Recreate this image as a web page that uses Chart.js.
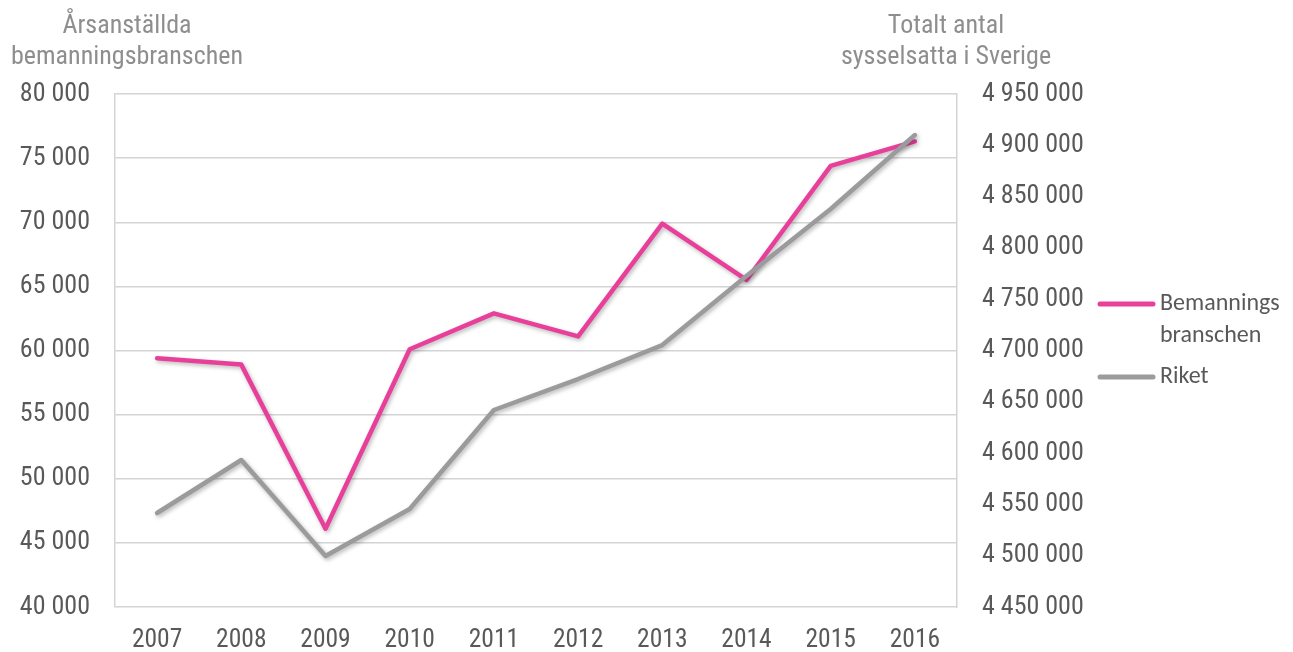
<!DOCTYPE html>
<html>
<head>
<meta charset="utf-8">
<script src="https://cdn.jsdelivr.net/npm/chart.js@4/dist/chart.umd.min.js"></script>
<style>
  html, body { margin: 0; padding: 0; background: #fff; overflow: hidden; }
  canvas { display: block; }
</style>
</head>
<body>
<canvas id="lineChart" width="1293" height="652"></canvas>
<script>
const years = ['2007', '2008', '2009', '2010', '2011', '2012', '2013', '2014', '2015', '2016'];
const bemanning = [59400, 58900, 46100, 60100, 62900, 61100, 69900, 65500, 74400, 76300];
const riket = [4541600, 4593300, 4499700, 4545500, 4642000, 4672200, 4705300, 4772600, 4837900, 4910000];
const leftTitle = ['Årsanställda', 'bemanningsbranschen'];
const rightTitle = ['Totalt antal', 'sysselsatta i Sverige'];
const legendItems = [
    { lines: ['Bemannings', 'branschen'], color: '#E8409A' },
    { lines: ['Riket'], color: '#9B9B9D' }
];

const tickFont = "'Roboto Condensed', 'Liberation Sans Narrow', 'DejaVu Sans Condensed', sans-serif";
const legendFont = "Carlito, Calibri, Lato, sans-serif";

function spaced(v) {
    return v.toString().replace(/\B(?=(\d{3})+(?!\d))/g, ' ');
}

// shadow under lines, like the office chart
const shadowPlugin = {
    id: 'shadow',
    beforeDatasetsDraw(chart) {
        const c = chart.ctx;
        c.save();
        c.shadowColor = 'rgba(0,0,0,0.28)';
        c.shadowBlur = 4;
        c.shadowOffsetX = 1.5;
        c.shadowOffsetY = 2;
    },
    afterDatasetsDraw(chart) {
        chart.ctx.restore();
    }
};

// axis titles and legend
const textPlugin = {
    id: 'extraText',
    afterDraw(chart) {
        const c = chart.ctx;
        c.save();
        c.font = '26px ' + tickFont;
        c.fillStyle = '#8E8E8E';
        c.textAlign = 'center';
        c.textBaseline = 'alphabetic';
        leftTitle.forEach((t, i) => c.fillText(t, 127, 33 + i * 31));
        rightTitle.forEach((t, i) => c.fillText(t, 946, 33 + i * 31));

        c.font = '24px ' + legendFont;
        c.textAlign = 'left';
        c.textBaseline = 'middle';
        let y = 304;
        legendItems.forEach(item => {
            c.strokeStyle = item.color;
            c.lineWidth = 5;
            c.lineCap = 'round';
            c.beginPath();
            c.moveTo(1100, y);
            c.lineTo(1153, y);
            c.stroke();
            c.fillStyle = '#595959';
            item.lines.forEach((l, i) => c.fillText(l, 1160, y + i * 32));
            y += item.lines.length * 32 + 9;
        });
        c.restore();
    }
};

const ctx = document.getElementById('lineChart').getContext('2d');
new Chart(ctx, {
    type: 'line',
    data: {
        labels: years,
        datasets: [{
            label: 'Bemannings branschen',
            data: bemanning,
            yAxisID: 'y',
            borderColor: '#E8409A',
            borderWidth: 4.5,
            order: 1
        }, {
            label: 'Riket',
            data: riket,
            yAxisID: 'y1',
            borderColor: '#9B9B9D',
            borderWidth: 4.5,
            order: 0
        }]
    },
    options: {
        responsive: false,
        animation: false,
        elements: {
            point: { radius: 0 },
            line: { tension: 0, borderCapStyle: 'round', borderJoinStyle: 'round' }
        },
        layout: { padding: { top: 94, left: 0, right: 0, bottom: 0 } },
        plugins: {
            legend: { display: false },
            tooltip: { enabled: false }
        },
        scales: {
            x: {
                offset: true,
                grid: { display: false, drawTicks: false },
                border: { display: false },
                ticks: { color: '#595959', font: { family: tickFont, size: 25.5 }, padding: 18, maxRotation: 0 },
                afterFit(axis) { axis.height = 45; }
            },
            y: {
                position: 'left',
                min: 40000,
                max: 80000,
                grid: { color: '#D4D4D4', lineWidth: 1.5, drawTicks: false },
                border: { color: '#D4D4D4', width: 1.5 },
                ticks: {
                    stepSize: 5000,
                    color: '#595959',
                    font: { family: tickFont, size: 26 },
                    padding: 25,
                    callback: v => spaced(v)
                },
                afterFit(axis) { axis.width = 115; }
            },
            y1: {
                position: 'right',
                min: 4450000,
                max: 4950000,
                grid: { drawOnChartArea: false, drawTicks: false },
                border: { color: '#D4D4D4', width: 1.5 },
                ticks: {
                    stepSize: 50000,
                    color: '#595959',
                    font: { family: tickFont, size: 26 },
                    padding: 25,
                    callback: v => spaced(v)
                },
                afterFit(axis) { axis.width = 336; }
            }
        }
    },
    plugins: [shadowPlugin, textPlugin]
});
</script>
</body>
</html>
